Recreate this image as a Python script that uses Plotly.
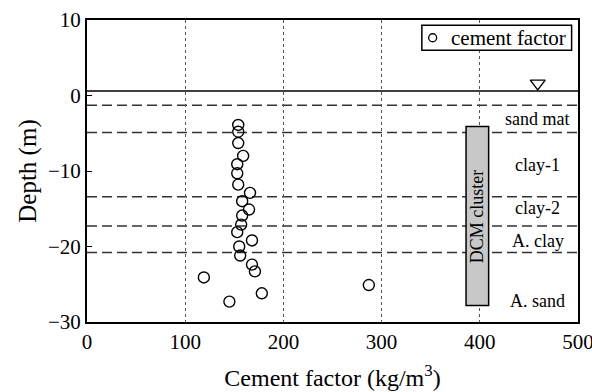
import plotly.graph_objects as go

# Cement factor measurements (kg/m3) vs depth (m)
cement_factor = [154, 154, 154, 159, 153, 153, 154, 166, 158, 165, 158,
                 157, 153, 168, 155, 156, 168, 171, 119, 178, 145, 287]
depth = [-3.9, -4.8, -6.3, -8.0, -9.1, -10.3, -11.8, -12.9, -14.0, -15.1, -15.9,
         -17.1, -18.1, -19.2, -20.0, -21.2, -22.4, -23.3, -24.1, -26.2, -27.3, -25.1]

# Ground water level and layer boundaries (m)
water_level = 0.6
water_marker_x = 459
water_marker_y = 1.6
layer_boundaries = [-1.3, -4.9, -13.4, -17.3, -20.8]
layer_names = ["sand mat", "clay-1", "clay-2", "A. clay", "A. sand"]
layer_label_depths = [-3.1, -9.2, -14.9, -19.3, -27.2]
layer_label_x = 459

# DCM cluster extent
dcm_x = [386, 409]
dcm_depth = [-27.8, -4.1]

# Legend box (data coordinates)
legend_label = "cement factor"
legend_x = [341, 493.5]
legend_y = [6.0, 9.3]

x_ticks = [0, 100, 200, 300, 400, 500]
y_ticks = [-30, -20, -10, 0, 10]

FONT = "Liberation Serif, Times New Roman, serif"

fig = go.Figure()

fig.add_trace(go.Scatter(
    x=cement_factor, y=depth, mode="markers", name=legend_label, showlegend=False,
    marker=dict(symbol="circle-open", size=11, color="black", line=dict(width=1.4)),
))
fig.add_trace(go.Scatter(
    x=[water_marker_x], y=[water_marker_y], mode="markers", showlegend=False,
    marker=dict(symbol="triangle-down-open", size=13, color="black", line=dict(width=1.4)),
))

shapes = []
shapes.append(dict(type="line", xref="paper", x0=0, x1=1, y0=water_level, y1=water_level,
                   line=dict(color="black", width=1.5), layer="between"))
for yb in layer_boundaries:
    shapes.append(dict(type="line", xref="paper", x0=0, x1=1, y0=yb, y1=yb,
                       line=dict(color="#333333", width=1.5, dash="10px,5px"), layer="between"))
shapes.append(dict(type="rect", x0=dcm_x[0], x1=dcm_x[1], y0=dcm_depth[0], y1=dcm_depth[1],
                   fillcolor="#c8c8c8", line=dict(color="black", width=1.5), layer="between"))
# legend box
shapes.append(dict(type="rect", x0=legend_x[0], x1=legend_x[1], y0=legend_y[0], y1=legend_y[1],
                   fillcolor="white", line=dict(color="black", width=1.5), layer="above"))
legend_mid_y = (legend_y[0] + legend_y[1]) / 2
shapes.append(dict(type="circle", xsizemode="pixel", ysizemode="pixel",
                   xanchor=legend_x[0] + 11, yanchor=legend_mid_y,
                   x0=-4, x1=4, y0=-4, y1=4,
                   line=dict(color="black", width=1.3), layer="above"))
fig.update_layout(shapes=shapes)

annotations = []
for name, yd in zip(layer_names, layer_label_depths):
    annotations.append(dict(x=layer_label_x, y=yd, text=name, showarrow=False,
                            font=dict(family=FONT, size=18, color="black")))
annotations.append(dict(x=(dcm_x[0] + dcm_x[1]) / 2, y=(dcm_depth[0] + dcm_depth[1]) / 2,
                        text="DCM cluster", textangle=-90, showarrow=False,
                        font=dict(family=FONT, size=18, color="black")))
annotations.append(dict(x=legend_x[0] + 28, y=legend_mid_y, text=legend_label, showarrow=False,
                        xanchor="left", yanchor="middle",
                        font=dict(family=FONT, size=21, color="black")))
fig.update_layout(annotations=annotations)

fig.update_xaxes(
    range=[0, 500], tickvals=x_ticks, showgrid=True, gridcolor="#555555", griddash="dot",
    gridwidth=1.2, zeroline=False, showline=True, linecolor="black", linewidth=2, mirror=True,
    ticks="", ticklabeloverflow="allow", automargin=False,
    tickfont=dict(family=FONT, size=21, color="black"),
    title=dict(text="Cement factor (kg/m<sup>3</sup>)", font=dict(family=FONT, size=24, color="black"),
               standoff=16),
)
fig.update_yaxes(
    range=[-30, 10], tickvals=y_ticks, showgrid=False, zeroline=False,
    showline=True, linecolor="black", linewidth=2, mirror=True, automargin=False,
    ticks="inside", ticklen=5, tickcolor="black", tickwidth=1,
    tickfont=dict(family=FONT, size=21, color="black"),
    title=dict(text="Depth (m)", font=dict(family=FONT, size=25, color="black"), standoff=4),
)

fig.update_layout(
    width=592, height=392,
    margin=dict(l=87, r=14, t=20, b=70),
    paper_bgcolor="white", plot_bgcolor="white",
    showlegend=False,
)

fig.write_html("out.html")
